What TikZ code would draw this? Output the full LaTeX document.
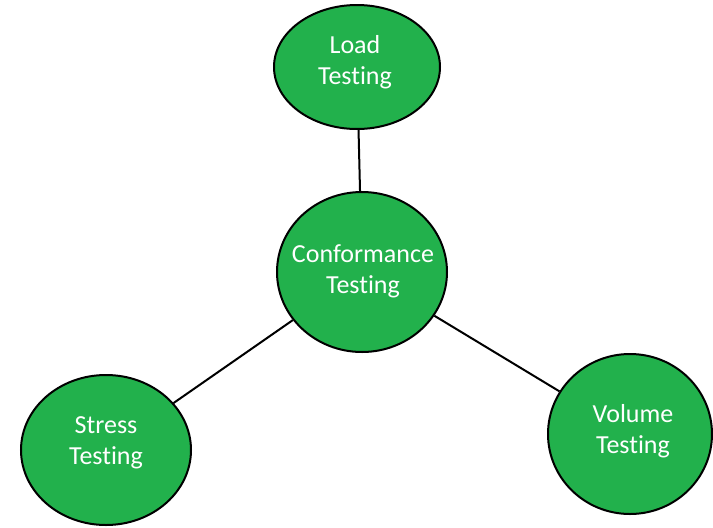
\documentclass[tikz,border=0pt]{standalone}
\usepackage{fontspec}
\setmainfont[Ligatures=NoCommon]{Carlito}
\usetikzlibrary{shapes.geometric}
\definecolor{pgreen}{RGB}{34,177,76}
\begin{document}
\begin{tikzpicture}[x=1pt,y=-1pt,
  bubble/.style={ellipse, draw=black, line width=2pt, fill=pgreen, inner sep=0pt},
  lbl/.style={text=white, align=center, inner sep=0pt, font=\fontsize{26}{31}\selectfont},
  link/.style={line width=2pt}]
\useasboundingbox (0,0) rectangle (713,528);
\node[bubble, minimum width=166pt, minimum height=124pt] (load) at (357,67) {};
\node[bubble, minimum width=170pt, minimum height=160pt] (conf) at (362,272) {};
\node[bubble, minimum width=170pt, minimum height=150pt] (stress) at (106,450) {};
\node[bubble, minimum width=164pt, minimum height=160pt] (vol) at (630,434) {};
\draw[link] (load) -- (conf);
\draw[link] (conf) -- (stress);
\draw[link] (conf) -- (vol);
\node[lbl] (loadt) at (355,62) {Load\\Testing};
\node[lbl] (conft) at (363,271) {Conformance\\Testing};
\node[lbl] (stresst) at (106,443) {Stress\\Testing};
\node[lbl] (volt) at (633,431) {Volume\\Testing};
\end{tikzpicture}
\end{document}
